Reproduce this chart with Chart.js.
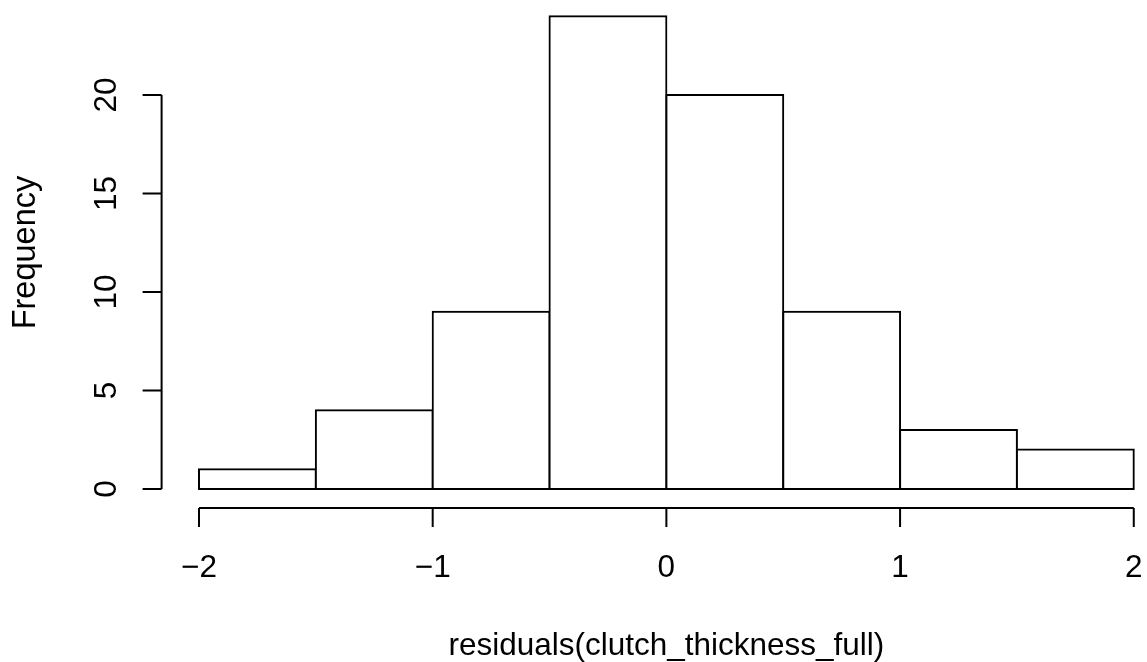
<!DOCTYPE html>
<html>
<head>
<meta charset="utf-8">
<script src="https://cdn.jsdelivr.net/npm/chart.js@4/dist/chart.umd.min.js"></script>
<style>
  html, body { margin: 0; padding: 0; background: #fff; overflow: hidden; }
  #wrap { width: 1147px; height: 662px; }
</style>
</head>
<body>
<div id="wrap"><canvas id="hist" width="1147" height="662"></canvas></div>
<script>
// Histogram of model residuals: bin edges and counts per bin
const breaks = [-2, -1.5, -1, -0.5, 0, 0.5, 1, 1.5, 2];
const counts = [1, 4, 9, 24, 20, 9, 3, 2];
const xTicks = [-2, -1, 0, 1, 2];
const yTicks = [0, 5, 10, 15, 20];
const xTitle = 'residuals(clutch_thickness_full)';
const yTitle = 'Frequency';

const FAMILY = '"Liberation Sans", Arial, Helvetica, sans-serif';
const FONT = '31.5px ' + FAMILY;
const FONT_YTITLE = '32.5px ' + FAMILY;
const TICK_LEN = 19;

const mids = counts.map((_, i) => (breaks[i] + breaks[i + 1]) / 2);
const points = counts.map((c, i) => ({ x: mids[i], y: c }));

function fmt(v) {
  return v < 0 ? '\u2212' + Math.abs(v) : String(v);
}

// Base-graphics style axes: line spans first..last tick, detached from the bars
const rAxes = {
  id: 'rAxes',
  afterDraw(chart) {
    const { ctx, chartArea, scales: { x, y } } = chart;
    ctx.save();
    ctx.strokeStyle = '#000';
    ctx.fillStyle = '#000';
    ctx.lineWidth = 2;
    ctx.font = FONT;

    // bottom axis
    const ay = chartArea.bottom;
    ctx.beginPath();
    ctx.moveTo(x.getPixelForValue(xTicks[0]), ay);
    ctx.lineTo(x.getPixelForValue(xTicks[xTicks.length - 1]), ay);
    xTicks.forEach(v => {
      const px = x.getPixelForValue(v);
      ctx.moveTo(px, ay);
      ctx.lineTo(px, ay + TICK_LEN);
    });
    ctx.stroke();
    ctx.textAlign = 'center';
    ctx.textBaseline = 'alphabetic';
    xTicks.forEach(v => ctx.fillText(fmt(v), x.getPixelForValue(v), ay + 69));

    // left axis
    const ax = chartArea.left;
    ctx.beginPath();
    ctx.moveTo(ax, y.getPixelForValue(yTicks[0]));
    ctx.lineTo(ax, y.getPixelForValue(yTicks[yTicks.length - 1]));
    yTicks.forEach(v => {
      const py = y.getPixelForValue(v);
      ctx.moveTo(ax, py);
      ctx.lineTo(ax - TICK_LEN, py);
    });
    ctx.stroke();
    yTicks.forEach(v => {
      ctx.save();
      ctx.translate(ax - 46, y.getPixelForValue(v));
      ctx.rotate(-Math.PI / 2);
      ctx.fillText(fmt(v), 0, 0);
      ctx.restore();
    });

    // axis titles
    const xMid = x.getPixelForValue((breaks[0] + breaks[breaks.length - 1]) / 2);
    ctx.fillText(xTitle, xMid, ay + 147);
    const yMid = y.getPixelForValue(Math.max(...counts) / 2);
    ctx.font = FONT_YTITLE;
    ctx.save();
    ctx.translate(35, yMid);
    ctx.rotate(-Math.PI / 2);
    ctx.fillText(yTitle, 0, 0);
    ctx.restore();

    ctx.restore();
  }
};

new Chart(document.getElementById('hist'), {
  type: 'bar',
  data: {
    datasets: [{
      data: points,
      backgroundColor: '#ffffff',
      borderColor: '#000000',
      borderSkipped: false,
      borderWidth: 2,
      // push the 2px outline outward by 1px so it sits centred on each bin edge
      inflateAmount: 1,
      barPercentage: 1,
      categoryPercentage: 1
    }]
  },
  options: {
    responsive: false,
    animation: false,
    devicePixelRatio: 1,
    layout: { padding: { left: 161.6, top: 0, right: 0, bottom: 154.1 } },
    plugins: { legend: { display: false }, tooltip: { enabled: false } },
    scales: {
      x: {
        type: 'linear',
        display: false,
        offset: false,
        min: -2.16,
        max: 2.0566,
        afterBuildTicks: s => { s.ticks = xTicks.map(v => ({ value: v })); }
      },
      y: {
        type: 'linear',
        display: false,
        min: -0.96,
        max: 24.82,
        afterBuildTicks: s => { s.ticks = yTicks.map(v => ({ value: v })); }
      }
    }
  },
  plugins: [rAxes]
});
</script>
</body>
</html>
